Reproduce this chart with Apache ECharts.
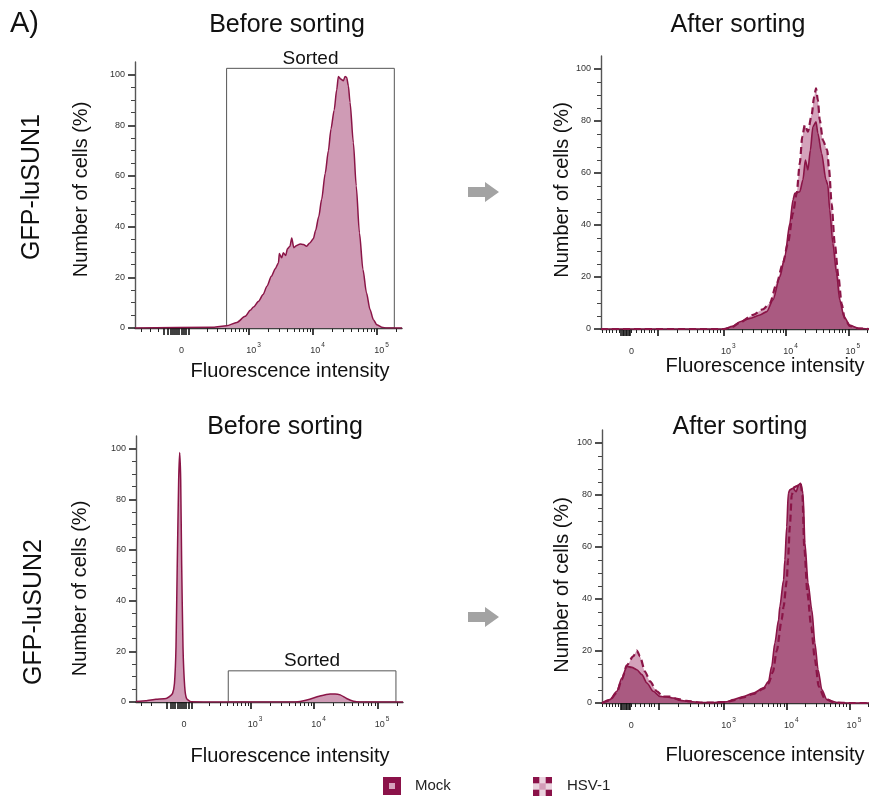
<!DOCTYPE html>
<html><head><meta charset="utf-8">
<script src="https://cdn.jsdelivr.net/npm/echarts@6/dist/echarts.min.js"></script>
<style>html,body{margin:0;padding:0;background:#fff}#c{width:869px;height:800px}</style>
</head><body><div id="c"></div>
<script>
// ---------- DATA (x in display decades: 3 = 10^3, 4 = 10^4, 5 = 10^5; y = % of cells) ----------
const rowLabels = ['GFP-luSUN1', 'GFP-luSUN2'];
const panelTitles = ['Before sorting', 'After sorting', 'Before sorting', 'After sorting'];
const seriesNames = ['Mock', 'HSV-1'];
const yTickLabels = [0, 20, 40, 60, 80, 100];
const yMinorTicks = [5, 10, 15, 25, 30, 35, 45, 50, 55, 65, 70, 75, 85, 90, 95];
const xTickLabels = ['0', '10³', '10⁴', '10⁵'];
const xZero = [1.875, 1.45, 1.88, 1.45];           // position of "0" on each panel
const xRanges = [[1.219, 5.39], [1.032, 5.33], [1.194, 5.399], [1.054, 5.312]];
const sortedGate1 = [2.65, 5.27, 102.5];          // x from, x to, top (%)
const sortedGate2 = [2.647, 5.288, 12.3];

const row1Before = [[1.219,0],[2.44,0.3],[2.65,0.9],[2.81,2.2],[2.94,4.6],[3.02,7.0],[3.07,8.3],[3.15,10.6],[3.22,13.2],[3.28,16.5],[3.35,20.4],[3.41,23.4],[3.46,25.7],[3.474,29.4],[3.51,27.7],[3.536,29.7],[3.573,28.6],[3.60,31.3],[3.64,32.3],[3.667,35.5],[3.70,31.7],[3.745,32.6],[3.80,33.2],[3.85,33.0],[3.90,32.3],[3.95,33.6],[4.005,35.2],[4.04,38.5],[4.09,44],[4.135,50.8],[4.19,61],[4.24,70],[4.28,78.5],[4.33,86],[4.37,94],[4.396,99.3],[4.432,98.3],[4.474,97.6],[4.50,99.3],[4.526,98.9],[4.552,95.6],[4.578,89.1],[4.63,73.2],[4.675,56.1],[4.725,37.6],[4.78,23.1],[4.835,13.9],[4.89,7.3],[4.943,3.3],[4.995,1.3],[5.073,0.3],[5.15,0],[5.39,0]];

const row1Mock = [[1.032,0],[3.0,0],[3.14,1.0],[3.26,2.8],[3.42,4.1],[3.58,5.4],[3.69,6.7],[3.79,11.2],[3.90,20.1],[3.98,27.8],[4.06,40.6],[4.11,49.6],[4.14,52.2],[4.22,52.8],[4.27,57.3],[4.31,65],[4.35,61.2],[4.39,68.8],[4.43,77.8],[4.48,79.7],[4.51,75.3],[4.57,67.6],[4.64,57.3],[4.67,55.4],[4.70,45.8],[4.75,33],[4.81,21.4],[4.86,11.2],[4.93,4.7],[5.02,1.5],[5.16,0.3],[5.33,0]];
const row1HSV = [[1.032,0],[3.0,0],[3.14,0.8],[3.26,2.5],[3.47,5.4],[3.63,7.6],[3.74,9.9],[3.85,17.6],[3.95,25.3],[4.03,33],[4.11,44.5],[4.17,52.2],[4.22,63.7],[4.26,74],[4.30,78.5],[4.35,75.9],[4.41,82.3],[4.45,89.3],[4.48,92.6],[4.51,88],[4.54,80.4],[4.59,72.7],[4.66,68.8],[4.69,61.2],[4.73,48.3],[4.78,33],[4.84,20.1],[4.89,9.9],[4.94,4.1],[5.02,1.2],[5.16,0.2],[5.33,0]];

const row2Before = [[1.194,0.2],[1.35,0.5],[1.51,1.1],[1.67,1.4],[1.72,2.1],[1.77,3.4],[1.80,7.4],[1.824,21.8],[1.844,54.7],[1.866,87.5],[1.882,98.5],[1.898,87.5],[1.913,54.7],[1.934,21.8],[1.961,6.0],[1.99,1.4],[2.06,0.1],[3.0,0],[3.70,0],[3.78,0.2],[3.93,1.1],[4.09,2.4],[4.25,3.2],[4.33,3.2],[4.41,2.8],[4.51,1.4],[4.62,0.3],[4.72,0],[5.399,0]];

const row2Mock = [[1.054,0],[1.18,1.3],[1.29,4.5],[1.37,9.6],[1.45,14.1],[1.53,13.7],[1.61,12.8],[1.69,10.9],[1.77,7.7],[1.87,4.5],[1.98,2.5],[2.09,2.3],[2.19,1.9],[2.30,1.0],[2.46,0.6],[2.62,0.2],[2.85,0.2],[3.04,0.5],[3.15,1.3],[3.31,2.5],[3.47,3.8],[3.63,5.8],[3.71,8.3],[3.76,14.1],[3.81,23],[3.87,32],[3.89,37.1],[3.95,47.4],[3.97,55],[4.0,67.8],[4.025,80.7],[4.05,82],[4.10,82.6],[4.15,81.3],[4.19,83.9],[4.22,84.5],[4.26,80.7],[4.29,61.5],[4.34,46.1],[4.40,35.8],[4.45,23],[4.50,12.8],[4.56,5.1],[4.64,1.3],[4.80,0.2],[5.0,0],[5.312,0]];
const row2HSV = [[1.054,0],[1.18,1.0],[1.29,4.0],[1.37,9.0],[1.45,14.5],[1.55,17.9],[1.61,20.2],[1.66,17.9],[1.74,12.1],[1.82,8.3],[1.93,4.5],[2.03,2.5],[2.14,2.5],[2.25,1.6],[2.40,0.8],[2.62,0.2],[2.85,0.2],[3.04,0.4],[3.15,1.0],[3.31,2.2],[3.47,3.5],[3.63,5.5],[3.71,7.5],[3.78,12],[3.84,20],[3.92,32],[3.95,37.1],[4.0,47],[4.02,55],[4.05,68],[4.08,80],[4.12,83],[4.17,83.5],[4.20,84],[4.22,84.7],[4.25,80],[4.28,60],[4.33,42.3],[4.39,29.4],[4.45,16.6],[4.51,6.4],[4.60,1.9],[4.75,0.2],[5.0,0],[5.312,0]];

// ---------- STYLE ----------
const FONT = 'Liberation Sans, Arial, sans-serif';
const LINE = '#8a1547';
const FILL_LIGHT = '#cf9bb5';
const FILL_DARK = '#aa5a81';
const HSV_FILL = '#d4a2bb';
const AXIS = '#333';

const grids = [
  {left: 135, top: 62, width: 267, height: 266},
  {left: 601, top: 56, width: 268, height: 273},
  {left: 136, top: 436, width: 267, height: 266},
  {left: 602, top: 430, width: 267, height: 273}
];
const xNameGap = [33, 27, 44, 42];
const xNameShift = [43, 60, 41, 59];
const yNameGap = [44, 29, 46, 30];
const yNameShift = [11, 5, -39, -37]; // + moves up, - moves down

const log10 = Math.log10;
function logTicks(from, to) { const r = []; for (let k = 2; k <= 9; k++) r.push(from + (to - from) * log10(k)); return r; }
function tickSet(p) {
  const z = xZero[p];
  let major, minor;
  if (p === 0 || p === 2) {
    const neg = z - 0.2, pos = z + 0.19;
    major = [neg, pos, 3, 4, 5];
    [-0.14,-0.105,-0.07,-0.035,0,0.035,0.07,0.105,0.14].forEach(d => major.push(z + d));
    minor = (p === 0 ? [1.31, 1.46, 1.59] : [1.27, 1.43]).concat(logTicks(pos, 3), logTicks(3, 4), logTicks(4, 5), [5.301]);
  } else {
    const pos = p === 1 ? 1.936 : 1.963;
    major = [pos, 3, 4, 5];
    [-0.1,-0.075,-0.05,-0.025,0,0.025,0.05].forEach(d => major.push(z + d));
    minor = [1.06,1.12,1.17,1.22,1.27,1.32,1.52,1.59,1.67,1.73,1.80,1.84,1.89].concat(logTicks(pos, 3), logTicks(3, 4), logTicks(4, 5), [5.301]);
  }
  const inR = v => v >= xRanges[p][0] && v <= xRanges[p][1];
  return {major: major.filter(inR), minor: minor.filter(inR)};
}
const supMap = {'³': '3', '⁴': '4', '⁵': '5'};
function fmtLabel(p) {
  const vals = [xZero[p], 3, 4, 5];
  return function (v) {
    for (let i = 0; i < vals.length; i++) {
      if (Math.abs(v - vals[i]) < 1e-6) {
        const t = xTickLabels[i];
        const last = t.charAt(t.length - 1);
        if (supMap[last]) return '{b|' + t.slice(0, -1) + '}{s|' + supMap[last] + '}';
        return '{b|' + t + '}';
      }
    }
    return '';
  };
}

const xAxes = [], yAxes = [];
for (let p = 0; p < 4; p++) {
  const t = tickSet(p);
  xAxes.push({
    type: 'value', gridIndex: p, position: 'bottom', min: xRanges[p][0], max: xRanges[p][1],
    axisLine: {show: true, onZero: false, lineStyle: {color: AXIS, width: 1.4}},
    axisTick: {show: true, inside: false, length: 7, customValues: t.major, lineStyle: {color: '#111', width: 1.6}},
    axisLabel: {show: true, customValues: [xZero[p], 3, 4, 5], formatter: fmtLabel(p), margin: 14, padding: [0, 0, 0, 9],
      rich: {b: {fontSize: 9, color: '#333', fontFamily: FONT, verticalAlign: 'bottom', lineHeight: 13},
             s: {fontSize: 6.5, color: '#333', fontFamily: FONT, verticalAlign: 'top', lineHeight: 13, padding: [0, 0, 0, 1]}}},
    splitLine: {show: false},
    name: 'Fluorescence intensity', nameLocation: 'middle', nameGap: xNameGap[p],
    nameTextStyle: {fontSize: 20, color: '#111', fontFamily: FONT, padding: [0, 0, 0, xNameShift[p]]}
  });
  xAxes.push({
    type: 'value', gridIndex: p, position: 'bottom', offset: 0, min: xRanges[p][0], max: xRanges[p][1],
    axisLine: {show: false, onZero: false}, axisLabel: {show: false}, splitLine: {show: false},
    axisTick: {show: true, inside: false, length: 4, customValues: t.minor, lineStyle: {color: '#222', width: 1}}
  });
  const sh = yNameShift[p];
  yAxes.push({
    type: 'value', gridIndex: p, position: 'left', min: 0, max: 105,
    axisLine: {show: true, onZero: false, lineStyle: {color: '#555', width: 1.4}},
    axisTick: {show: true, inside: false, length: 7, customValues: yTickLabels, lineStyle: {color: '#222', width: 1.6}},
    axisLabel: {show: true, customValues: yTickLabels, fontSize: 9, color: '#333', fontFamily: FONT, margin: 10},
    splitLine: {show: false},
    name: 'Number of cells (%)', nameLocation: 'middle', nameGap: yNameGap[p],
    nameTextStyle: {fontSize: 20, color: '#111', fontFamily: FONT,
      padding: sh >= 0 ? [0, 0, 0, sh] : [0, -sh, 0, 0]}
  });
  yAxes.push({
    type: 'value', gridIndex: p, position: 'left', offset: 0, min: 0, max: 105,
    axisLine: {show: false, onZero: false}, axisLabel: {show: false}, splitLine: {show: false},
    axisTick: {show: true, inside: false, length: 4, customValues: yMinorTicks, lineStyle: {color: '#444', width: 1}}
  });
}

function gateArea(g) {
  return {
    silent: true,
    itemStyle: {color: 'rgba(0,0,0,0)', borderColor: '#555', borderWidth: 1},
    label: {show: true, position: 'top', distance: 0, formatter: 'Sorted', fontSize: 19, color: '#111', fontFamily: FONT},
    data: [[{xAxis: g[0], yAxis: 0}, {xAxis: g[1], yAxis: g[2]}]]
  };
}
const common = {type: 'line', showSymbol: false, symbol: 'none', smooth: 0.25, smoothMonotone: 'x', silent: true, animation: false};

const series = [
  Object.assign({}, common, {name: 'Before', xAxisIndex: 0, yAxisIndex: 0, data: row1Before, z: 2,
    lineStyle: {color: LINE, width: 1.5}, areaStyle: {color: FILL_LIGHT, opacity: 1}, markArea: gateArea(sortedGate1)}),
  Object.assign({}, common, {name: seriesNames[1], xAxisIndex: 2, yAxisIndex: 2, data: row1HSV, z: 2,
    lineStyle: {width: 0, opacity: 0}, areaStyle: {color: HSV_FILL, opacity: 1}}),
  Object.assign({}, common, {name: seriesNames[0], xAxisIndex: 2, yAxisIndex: 2, data: row1Mock, z: 3,
    lineStyle: {color: LINE, width: 1.6}, areaStyle: {color: FILL_DARK, opacity: 1}}),
  Object.assign({}, common, {name: seriesNames[1], xAxisIndex: 2, yAxisIndex: 2, data: row1HSV, z: 4,
    lineStyle: {color: LINE, width: 2.2, type: [7, 4]}}),
  Object.assign({}, common, {name: 'Before', xAxisIndex: 4, yAxisIndex: 4, data: row2Before, z: 2,
    smooth: 0.15, smoothMonotone: null,
    lineStyle: {color: LINE, width: 1.5, join: 'round'}, areaStyle: {color: FILL_LIGHT, opacity: 1}, markArea: gateArea(sortedGate2)}),
  Object.assign({}, common, {name: seriesNames[1], xAxisIndex: 6, yAxisIndex: 6, data: row2HSV, z: 2,
    lineStyle: {width: 0, opacity: 0}, areaStyle: {color: HSV_FILL, opacity: 1}}),
  Object.assign({}, common, {name: seriesNames[0], xAxisIndex: 6, yAxisIndex: 6, data: row2Mock, z: 3,
    lineStyle: {color: LINE, width: 1.6}, areaStyle: {color: FILL_DARK, opacity: 1}}),
  Object.assign({}, common, {name: seriesNames[1], xAxisIndex: 6, yAxisIndex: 6, data: row2HSV, z: 4,
    lineStyle: {color: LINE, width: 2.2, type: [7, 4]}})
];

function txt(x, y, s, size, extra) {
  return Object.assign({type: 'text', x: x, y: y, silent: true,
    style: {text: s, fontSize: size, fontFamily: FONT, fill: '#111', align: 'center', verticalAlign: 'middle'}}, extra || {});
}
function arrow(cy) {
  return {type: 'polygon', silent: true, shape: {points: [[468, cy - 5], [485, cy - 5], [485, cy - 10], [499, cy], [485, cy + 10], [485, cy + 5], [468, cy + 5]]},
    style: {fill: '#a3a3a3'}};
}
const graphics = [
  {type: 'text', left: 10, top: 9, silent: true, style: {text: 'A)', fontSize: 29, fontFamily: FONT, fill: '#111'}},
  txt(287, 25, panelTitles[0], 25), txt(738, 25, panelTitles[1], 25),
  txt(285, 427, panelTitles[2], 25), txt(740, 427, panelTitles[3], 25),
  txt(32, 187, rowLabels[0], 25, {rotation: Math.PI / 2}),
  txt(34, 612, rowLabels[1], 25, {rotation: Math.PI / 2}),
  arrow(192), arrow(617),
  // legend: Mock
  {type: 'rect', silent: true, shape: {x: 383, y: 777, width: 18, height: 18}, style: {fill: '#8b1249'}},
  {type: 'rect', silent: true, shape: {x: 389, y: 783, width: 6, height: 6}, style: {fill: '#d6a3bc'}},
  {type: 'text', silent: true, x: 415, y: 786, style: {text: seriesNames[0], fontSize: 15, fontFamily: FONT, fill: '#222', verticalAlign: 'middle'}},
  // legend: HSV-1
  {type: 'rect', silent: true, shape: {x: 533, y: 777, width: 19, height: 19}, style: {fill: '#ead2de'}},
  {type: 'rect', silent: true, shape: {x: 539.3, y: 783.3, width: 6.4, height: 6.4}, style: {fill: '#d39db8'}},
  {type: 'rect', silent: true, shape: {x: 533, y: 777, width: 6.3, height: 6.3}, style: {fill: '#8b1249'}},
  {type: 'rect', silent: true, shape: {x: 545.7, y: 777, width: 6.3, height: 6.3}, style: {fill: '#8b1249'}},
  {type: 'rect', silent: true, shape: {x: 533, y: 789.7, width: 6.3, height: 6.3}, style: {fill: '#8b1249'}},
  {type: 'rect', silent: true, shape: {x: 545.7, y: 789.7, width: 6.3, height: 6.3}, style: {fill: '#8b1249'}},
  {type: 'text', silent: true, x: 567, y: 786, style: {text: seriesNames[1], fontSize: 15, fontFamily: FONT, fill: '#222', verticalAlign: 'middle'}}
];

const chart = echarts.init(document.getElementById('c'), null, {renderer: 'canvas'});
chart.setOption({
  animation: false,
  backgroundColor: '#fff',
  textStyle: {fontFamily: FONT},
  grid: grids,
  xAxis: xAxes,
  yAxis: yAxes,
  series: series,
  graphic: graphics
});
</script></body></html>
